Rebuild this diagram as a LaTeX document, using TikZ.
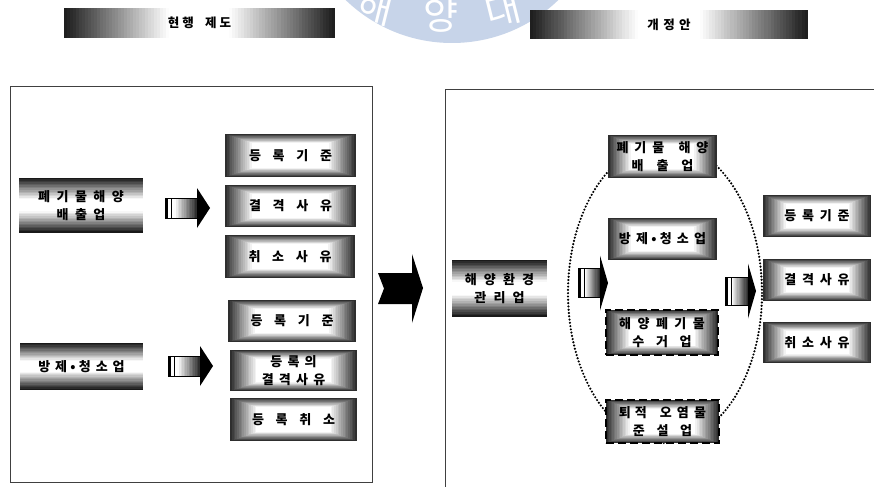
\documentclass[tikz,border=0pt]{standalone}
\usepackage{tikz}
\usepackage{fontspec}
\setmainfont{Noto Sans CJK KR}
\definecolor{wmblue}{RGB}{199,212,233}
\newcommand\gp[1][.9]{\hspace{#1em}}
% concentric fill: cx cy w h
\newcommand\radfill[4]{%
  \foreach \k in {0,...,16}{%
    \pgfmathsetmacro\myix{#3/2*\k/36}%
    \pgfmathsetmacro\myiy{#4/2*\k/36}%
    \pgfmathtruncatemacro\shd{max(0,82-5.5*\k)}%
    \fill[black!\shd] ({#1-#3/2+\myix},{#2-#4/2+\myiy}) rectangle ({#1+#3/2-\myix},{#2+#4/2-\myiy});
  }}
% horizontal strips, dark top and bottom: cx cy w h
\newcommand\bandV[4]{%
  \foreach \j in {0,...,35}{%
    \pgfmathsetmacro\dd{abs((\j+0.5)/36*2-1)}%
    \pgfmathtruncatemacro\shd{94*max(0,(\dd-0.22)/0.78)}%
    \fill[black!\shd] ({#1-#3/2},{#2+#4/2-#4/36*\j+0.2}) rectangle ({#1+#3/2},{#2+#4/2-#4/36*(\j+1)-0.2});
  }}
% vertical strips, dark left and right: cx cy w h
\newcommand\bandH[4]{%
  \foreach \j in {0,...,89}{%
    \pgfmathsetmacro\dd{abs((\j+0.5)/90*2-1)}%
    \pgfmathtruncatemacro\shd{90*max(0,(\dd-0.22)/0.78)}%
    \fill[black!\shd] ({#1-#3/2+#3/90*\j-0.3},{#2-#4/2}) rectangle ({#1-#3/2+#3/90*(\j+1)+0.3},{#2+#4/2});
  }}
% #1 x0, #2 x1 shaft end, #3 tip x, #4 yc (negative), #5 shaft half, #6 head half
\newcommand\blockarrow[6]{%
  \foreach \j in {0,...,19}{%
    \pgfmathtruncatemacro\shd{82*max(0,(\j/19-0.3)/0.7)}%
    \fill[black!\shd] ({#1+(#2-#1)/20*\j-0.2},{#4-#5}) rectangle ({#1+(#2-#1)/20*(\j+1)+0.2},{#4+#5});
  }
  \draw[black, line width=0.8pt] (#1,{#4-#5}) rectangle (#2,{#4+#5});
  \fill[black] (#1,{#4-#5}) rectangle ({#1+3},{#4+#5});
  \draw[black, line width=0.7pt] ({#1+6},{#4-#5}) -- ({#1+6},{#4+#5});
  \fill[black] (#2,{#4-#6}) -- (#3,#4) -- (#2,{#4+#6}) -- cycle;
}
\tikzset{
  frame/.style={draw=black!75, line width=0.9pt},
  gbox/.style={inner sep=0pt, align=center, font=\fontsize{13}{18}\selectfont\bfseries},
  dbox/.style={gbox, draw=black, line width=2.6pt, dash pattern=on 8pt off 4pt},
  hbox/.style={inner sep=0pt, align=center, font=\fontsize{13}{18}\selectfont\bfseries},
  banner/.style={inner sep=0pt, align=center, font=\fontsize{12.5}{14}\selectfont\bfseries},
  wm/.style={text=white, font=\fontsize{38}{40}\selectfont}
}
\begin{document}
\begin{tikzpicture}[x=1pt, y=1pt]
\useasboundingbox (0,-487) rectangle (874,0);
\fill[white] (0,-487) rectangle (874,0);
% watermark
\begin{scope}
\clip (0,-487) rectangle (874,0);
\fill[wmblue] (452,110) circle [radius=153];
\node[wm, rotate=-14] (wm1) at (376,-7) {해};
\node[wm] (wm2) at (441,-15) {양};
\node[wm, rotate=14] (wm3) at (503,-9) {대};
\end{scope}
% banners
\bandH{199.5}{-23}{271}{30}
\node[banner, minimum width=271pt, minimum height=30pt] (t1) at (199.5,-23) {현\gp[.25]행\gp[.9]제\gp[.25]도};
\bandH{669}{-24.5}{278}{29}
\node[banner, minimum width=278pt, minimum height=29pt] (t2) at (669,-24.5) {개\gp[.35]정\gp[.35]안};
% frames
\draw[frame] (10,-86) rectangle (372,-482);
\draw[frame] (874,-89) -- (445,-89) -- (445,-487);
% left panel
\bandV{81}{-205.5}{124}{55}
\node[hbox, minimum width=124pt, minimum height=55pt] (l1) at (81,-205.5) {폐\gp[.5]기\gp[.5]물\gp[.5]해\gp[.5]양\\배\gp[.5]출\gp[.5]업};
\bandV{81.5}{-366.5}{123}{47}
\node[hbox, minimum width=123pt, minimum height=47pt] (l2) at (81.5,-366.5) {방\gp[.38]제\gp[.25]•\gp[.25]청\gp[.38]소\gp[.38]업};
\blockarrow{165}{197}{210}{-208}{10}{20}
\blockarrow{168}{200}{213}{-366}{10}{20}
\radfill{290.5}{-155.5}{131}{43}
\node[gbox, minimum width=131pt, minimum height=43pt] (r1a) at (290.5,-155.5) {등\gp{}록\gp{}기\gp{}준};
\radfill{290.5}{-206}{131}{42}
\node[gbox, minimum width=131pt, minimum height=42pt] (r1b) at (290.5,-206) {결\gp{}격\gp{}사\gp{}유};
\radfill{290}{-256.5}{130}{43}
\node[gbox, minimum width=130pt, minimum height=43pt] (r1c) at (290,-256.5) {취\gp{}소\gp{}사\gp{}유};
\radfill{292}{-321}{128}{42}
\node[gbox, minimum width=128pt, minimum height=42pt] (r2a) at (292,-321) {등\gp{}록\gp{}기\gp{}준};
\radfill{293.5}{-370.5}{127}{41}
\node[gbox, minimum width=127pt, minimum height=41pt] (r2b) at (293.5,-370.5) {등\gp[.4]록\gp[.4]의\\결\gp[.4]격\gp[.4]사\gp[.4]유};
\radfill{293.5}{-419.5}{127}{43}
\node[gbox, minimum width=127pt, minimum height=43pt] (r2c) at (293.5,-419.5) {등\gp{}록\gp{}취\gp{}소};
% big arrow
\fill[black] (378,-273) -- (412,-273) -- (412,-254) -- (423,-288) -- (412,-323) -- (412,-304) -- (378,-304) -- (384,-288.5) -- cycle;
% right panel
\bandV{499.5}{-288.5}{95}{57}
\node[hbox, minimum width=95pt, minimum height=57pt] (m) at (499.5,-288.5) {해\gp[.55]양\gp[.55]환\gp[.55]경\\관\gp[.55]리\gp[.55]업};
\draw[black, line width=2.4pt, line cap=round, dash pattern=on 0pt off 3.3pt] (665,-293) ellipse [x radius=97, y radius=150];
\radfill{662.5}{-156.5}{109}{43}
\node[gbox, minimum width=109pt, minimum height=43pt] (c1) at (662.5,-156.5) {폐\gp[.45]기\gp[.45]물\gp[1.1]해\gp[.45]양\\배\gp[1]출\gp[1]업};
\radfill{662.5}{-239}{109}{42}
\node[gbox, minimum width=109pt, minimum height=42pt] (c2) at (662.5,-239) {방\gp[.4]제\gp[.25]•\gp[.25]청\gp[.4]소\gp[.4]업};
\radfill{662}{-332.5}{112}{45}
\node[dbox, minimum width=112pt, minimum height=45pt] (c3) at (662,-332.5) {해\gp[.5]양\gp[.5]폐\gp[.5]기\gp[.5]물\\수\gp[.9]거\gp[.9]업};
\radfill{662.5}{-421.5}{113}{43}
\node[dbox, minimum width=113pt, minimum height=43pt] (c4) at (662.5,-421.5) {퇴\gp[.3]적\gp[1]오\gp[.4]염\gp[.4]물\\준\gp[.9]설\gp[.9]업};
\blockarrow{578}{600}{608}{-283}{14.5}{27.5}
\blockarrow{725}{748}{756}{-291}{14}{27.5}
\radfill{817}{-216}{108}{42}
\node[gbox, minimum width=108pt, minimum height=42pt] (s1) at (817,-216) {등\gp[.45]록\gp[.45]기\gp[.45]준};
\radfill{817}{-280}{108}{42}
\node[gbox, minimum width=108pt, minimum height=42pt] (s2) at (817,-280) {결\gp[.45]격\gp[.45]사\gp[.45]유};
\radfill{817}{-342.5}{108}{41}
\node[gbox, minimum width=108pt, minimum height=41pt] (s3) at (817,-342.5) {취\gp[.45]소\gp[.45]사\gp[.45]유};
\end{tikzpicture}
\end{document}
